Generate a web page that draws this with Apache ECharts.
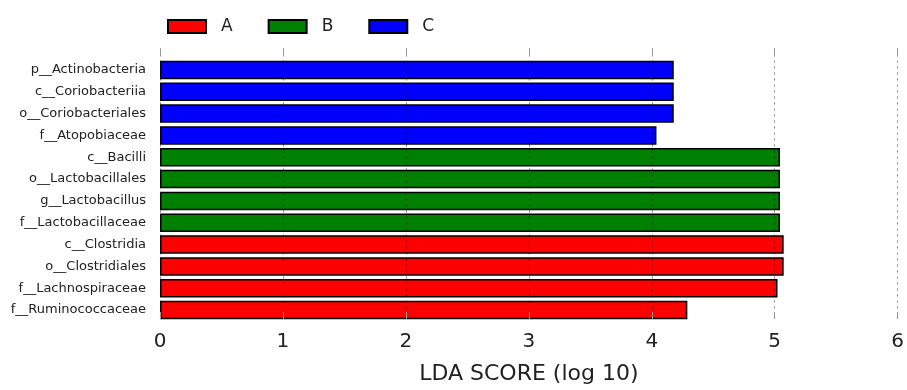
<!DOCTYPE html>
<html>
<head>
<meta charset="utf-8">
<script src="https://cdn.jsdelivr.net/npm/echarts@6/dist/echarts.min.js"></script>
<style>
  html, body { margin: 0; padding: 0; background: #fff; }
  #chart { width: 907px; height: 390px; }
</style>
</head>
<body>
<div id="chart"></div>
<script>
// Taxa, listed top to bottom
const taxa = [
  'p__Actinobacteria', 'c__Coriobacteriia', 'o__Coriobacteriales', 'f__Atopobiaceae',
  'c__Bacilli', 'o__Lactobacillales', 'g__Lactobacillus', 'f__Lactobacillaceae',
  'c__Clostridia', 'o__Clostridiales', 'f__Lachnospiraceae', 'f__Ruminococcaceae'
];
// LDA scores (log 10) per taxon
const ldaScores = [4.16, 4.16, 4.16, 4.02, 5.02, 5.02, 5.02, 5.02, 5.05, 5.05, 5.00, 4.27];
// Group each taxon is enriched in
const taxonGroup = ['C', 'C', 'C', 'C', 'B', 'B', 'B', 'B', 'A', 'A', 'A', 'A'];
const groups = ['A', 'B', 'C'];
const groupColors = { A: '#ff0000', B: '#008000', C: '#0000ff' };
const xTicks = [0, 1, 2, 3, 4, 5, 6];

const FONT = 'DejaVu Sans';
const chart = echarts.init(document.getElementById('chart'), null, { renderer: 'canvas' });

const series = groups.map(g => ({
  name: g,
  type: 'bar',
  stack: 'lda',
  xAxisIndex: 0,
  yAxisIndex: 0,
  barCategoryGap: '15%',
  itemStyle: { color: groupColors[g], borderColor: '#000', borderWidth: 1.5 },
  data: ldaScores.map((v, i) => (taxonGroup[i] === g ? v : null)),
  z: 2
}));

chart.setOption({
  animation: false,
  backgroundColor: '#fff',
  legend: {
    data: groups,
    left: 167,
    top: 18,
    padding: 0,
    itemWidth: 38,
    itemHeight: 13,
    itemGap: 35,
    icon: 'rect',
    textStyle: { fontFamily: FONT, fontSize: 17, color: '#222', lineHeight: 16, padding: [0, 0, 0, 10] }
  },
  grid: [
    { left: 160, right: 6, top: 59, bottom: 69 },
    { left: 160, right: 6, top: 48.5, bottom: 59.5 }
  ],
  xAxis: [
    { gridIndex: 0, type: 'value', min: xTicks[0], max: xTicks[xTicks.length - 1], interval: 1,
      show: false },
    { gridIndex: 1, type: 'value', position: 'bottom', min: xTicks[0], max: xTicks[xTicks.length - 1], interval: 1,
      z: 5,
      axisLine: { show: false },
      axisTick: { show: true, inside: true, length: 7, lineStyle: { color: '#999', width: 1 } },
      axisLabel: { fontFamily: FONT, fontSize: 20, color: '#222', margin: 13 },
      splitLine: { show: true, lineStyle: { color: 'rgba(0,0,0,0.5)', width: 1, type: [2, 4] } },
      name: 'LDA SCORE (log 10)',
      nameLocation: 'middle',
      nameGap: 44,
      nameTextStyle: { fontFamily: FONT, fontSize: 22, color: '#222' }
    },
    { gridIndex: 1, type: 'value', position: 'top', min: xTicks[0], max: xTicks[xTicks.length - 1], interval: 1,
      z: 5,
      axisLine: { show: false },
      axisTick: { show: true, inside: true, length: 7, lineStyle: { color: '#999', width: 1 } },
      axisLabel: { show: false },
      splitLine: { show: false }
    }
  ],
  yAxis: [
    { gridIndex: 0, type: 'category', data: taxa, inverse: true,
      axisLine: { show: false }, axisTick: { show: false }, splitLine: { show: false },
      axisLabel: { fontFamily: FONT, fontSize: 13, color: '#222', margin: 14 }
    },
    { gridIndex: 1, type: 'value', show: false, min: 0, max: 1 }
  ],
  series: series
});
</script>
</body>
</html>
